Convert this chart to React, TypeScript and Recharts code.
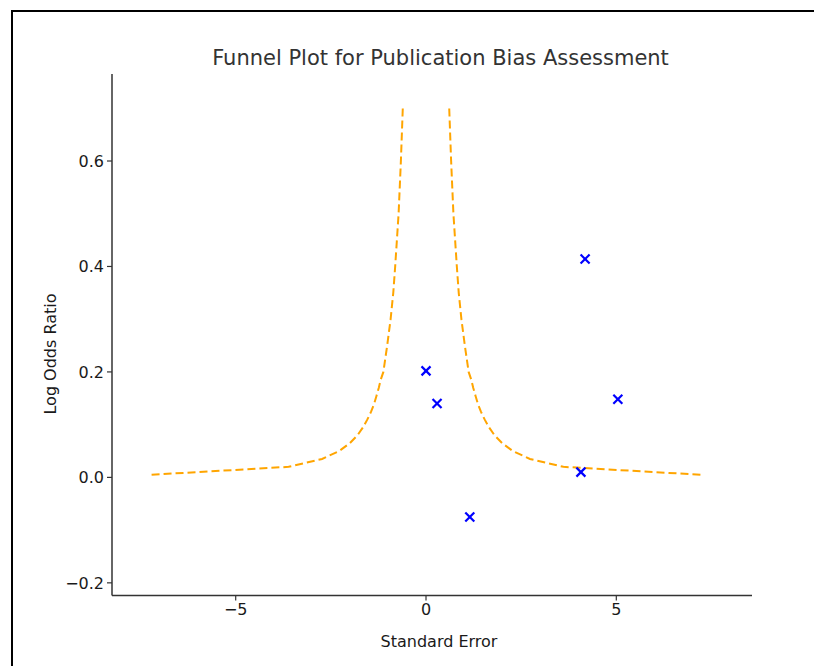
import React from "react";
import { ScatterChart, Scatter, XAxis, YAxis } from "recharts";

const studySE = [0.0, 0.29, 1.15, 4.18, 4.07, 5.04];
const studyLogOR = [0.202, 0.14, -0.075, 0.414, 0.01, 0.148];

const funnelY = [0.005, 0.02, 0.035, 0.05, 0.065, 0.08, 0.095, 0.11, 0.125, 0.14, 0.155, 0.17, 0.185, 0.2, 0.25, 0.3, 0.35, 0.4, 0.5, 0.6, 0.7];
const funnelLeftX = [-7.21, -3.61, -2.73, -2.28, -2.0, -1.8, -1.655, -1.54, -1.44, -1.36, -1.3, -1.24, -1.19, -1.12, -1.02, -0.93, -0.86, -0.81, -0.72, -0.66, -0.61];
const funnelRightX = [7.21, 3.61, 2.73, 2.28, 2.0, 1.8, 1.655, 1.54, 1.44, 1.36, 1.3, 1.24, 1.19, 1.12, 1.02, 0.93, 0.86, 0.81, 0.72, 0.66, 0.61];

const xTicks = [-5, 0, 5];
const yTicks = [-0.2, 0.0, 0.2, 0.4, 0.6];

const studies = studySE.map((x, i) => ({ x, y: studyLogOR[i] }));
const leftFunnel = funnelY.map((y, i) => ({ x: funnelLeftX[i], y }));
const rightFunnel = funnelY.map((y, i) => ({ x: funnelRightX[i], y }));

const FONT = "'DejaVu Sans', sans-serif";

const Cross = (props: any) => {
  const { cx, cy } = props;
  if (cx == null || cy == null) return <g />;
  const s = 4.5;
  return (
    <g>
      <line x1={cx - s} y1={cy - s} x2={cx + s} y2={cy + s} stroke="#0000ff" strokeWidth={2.2} />
      <line x1={cx - s} y1={cy + s} x2={cx + s} y2={cy - s} stroke="#0000ff" strokeWidth={2.2} />
    </g>
  );
};

const NoDot = () => <g />;

const fmtX = (v: number) => (v < 0 ? "\u2212" + Math.abs(v) : String(v));
const fmtY = (v: number) => (v < 0 ? "\u2212" + Math.abs(v).toFixed(1) : v.toFixed(1));

const dashLine = { stroke: "#ffa500", strokeWidth: 2, strokeDasharray: "8 4" };

export default function App() {
  return (
    <div style={{ position: "absolute", left: 0, top: 0, width: 814, height: 666, overflow: "hidden", background: "#fff", fontFamily: FONT }}>
      <div style={{ position: "absolute", left: 11, top: 10, width: 900, height: 900, borderLeft: "2px solid #000", borderTop: "2px solid #000" }} />
      <div style={{ position: "absolute", left: 0, top: 0 }}>
        <ScatterChart width={814} height={666} margin={{ top: 74, right: 62, bottom: 30.5, left: 52 }}>
          <XAxis
            type="number"
            dataKey="x"
            domain={[-8.25, 8.565]}
            ticks={xTicks}
            allowDataOverflow
            height={40}
            tickFormatter={fmtX}
            tickSize={5}
            tickMargin={3}
            axisLine={{ stroke: "#333", strokeWidth: 1.5 }}
            tickLine={{ stroke: "#333", strokeWidth: 1.2 }}
            tick={{ fill: "#1a1a1a", fontSize: 16, fontFamily: FONT }}
          />
          <YAxis
            type="number"
            dataKey="y"
            domain={[-0.224, 0.765]}
            ticks={yTicks}
            allowDataOverflow
            width={60}
            tickFormatter={fmtY}
            tickSize={5}
            tickMargin={3}
            axisLine={{ stroke: "#333", strokeWidth: 1.5 }}
            tickLine={{ stroke: "#333", strokeWidth: 1.2 }}
            tick={{ fill: "#1a1a1a", fontSize: 16, fontFamily: FONT }}
          />
          <Scatter data={leftFunnel} line={dashLine} lineType="joint" shape={NoDot} isAnimationActive={false} legendType="none" />
          <Scatter data={rightFunnel} line={dashLine} lineType="joint" shape={NoDot} isAnimationActive={false} legendType="none" />
          <Scatter data={studies} shape={Cross} isAnimationActive={false} legendType="none" />
        </ScatterChart>
      </div>
      <div style={{ position: "absolute", left: 0, width: 881, top: 46, textAlign: "center", fontSize: 21, color: "#333", whiteSpace: "nowrap" }}>
        Funnel Plot for Publication Bias Assessment
      </div>
      <div style={{ position: "absolute", left: 0, width: 878, top: 632, textAlign: "center", fontSize: 16, color: "#1a1a1a", whiteSpace: "nowrap" }}>
        Standard Error
      </div>
      <div style={{ position: "absolute", left: 50, top: 354, width: 0, height: 0 }}>
        <div style={{ position: "absolute", left: 0, top: 0, transform: "translate(-50%, -50%) rotate(-90deg)", fontSize: 16, color: "#1a1a1a", whiteSpace: "nowrap" }}>
          Log Odds Ratio
        </div>
      </div>
    </div>
  );
}
